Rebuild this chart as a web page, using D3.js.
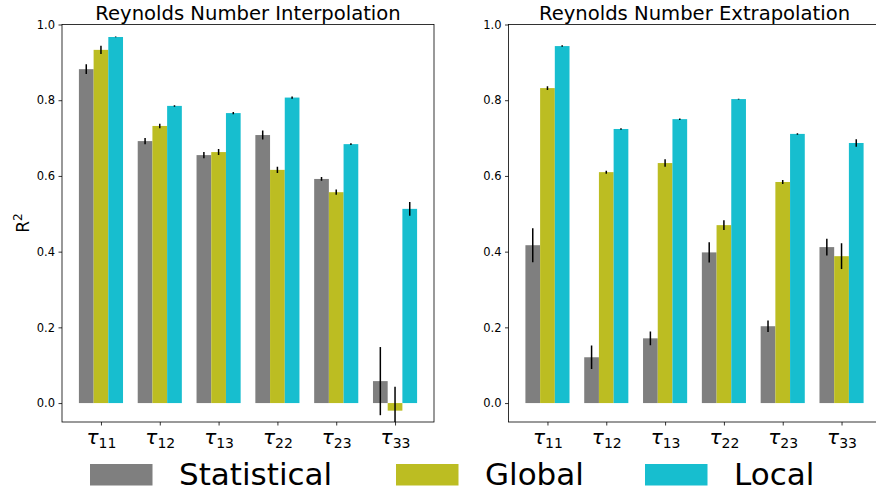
<!DOCTYPE html>
<html><head><meta charset="utf-8">
<script src="https://cdn.jsdelivr.net/npm/d3@7"></script>
<style>body{margin:0;background:#fff}svg{display:block;font-family:"DejaVu Sans",sans-serif}</style>
</head><body><svg id="c" width="876" height="490"></svg>
<script>
const categories = ["11","12","13","22","23","33"];
const seriesNames = ["Statistical","Global","Local"];
const colors = ["#7f7f7f","#bcbd22","#17becf"];
const yTicks = [0.0,0.2,0.4,0.6,0.8,1.0];
// Interpolation
const interpStat = [0.882,0.692,0.655,0.708,0.592,0.058];
const interpStatErr = [0.013,0.008,0.008,0.012,0.005,0.09];
const interpGlob = [0.933,0.732,0.663,0.616,0.557,-0.020];
const interpGlobErr = [0.011,0.006,0.008,0.008,0.007,0.063];
const interpLoc = [0.967,0.785,0.766,0.807,0.684,0.513];
const interpLocErr = [0.001,0.002,0.003,0.003,0.002,0.018];
// Extrapolation
const extraStat = [0.417,0.121,0.171,0.398,0.203,0.412];
const extraStatErr = [0.045,0.031,0.018,0.027,0.015,0.022];
const extraGlob = [0.832,0.610,0.634,0.470,0.584,0.388];
const extraGlobErr = [0.005,0.004,0.010,0.013,0.005,0.034];
const extraLoc = [0.943,0.724,0.750,0.803,0.711,0.687];
const extraLocErr = [0.002,0.002,0.002,0.001,0.002,0.010];

const svg = d3.select("#c");
const panels = [
  {title:"Reynolds Number Interpolation", x0:62, vals:[interpStat,interpGlob,interpLoc], errs:[interpStatErr,interpGlobErr,interpLocErr], ylabel:true},
  {title:"Reynolds Number Extrapolation", x0:508.5, vals:[extraStat,extraGlob,extraLoc], errs:[extraStatErr,extraGlobErr,extraLocErr], ylabel:false}
];
const W = 372, plotTop = 24.5, plotBottom = 422;
const barW = 0.25;

panels.forEach((p,pi)=>{
  const x = d3.scaleLinear().domain([-0.6625,5.6625]).range([p.x0,p.x0+W]);
  const y = d3.scaleLinear().domain([-0.05,1.0]).range([plotBottom,plotTop]);
  const g = svg.append("g");
  const cid = "clip"+pi;
  svg.append("clipPath").attr("id",cid).append("rect")
    .attr("x",p.x0).attr("y",plotTop).attr("width",W).attr("height",plotBottom-plotTop);
  const plot = g.append("g").attr("clip-path",`url(#${cid})`);
  p.vals.forEach((vals,si)=>{
    const off = (si-1)*barW;
    plot.selectAll(null).data(vals).enter().append("rect")
      .attr("x",(d,i)=>x(i+off-barW/2))
      .attr("width",(d,i)=>x(i+off+barW/2)-x(i+off-barW/2))
      .attr("y",d=>Math.min(y(d),y(0)))
      .attr("height",d=>Math.abs(y(d)-y(0)))
      .attr("fill",colors[si]);
  });
  p.vals.forEach((vals,si)=>{
    const off = (si-1)*barW;
    plot.selectAll(null).data(vals).enter().append("line")
      .attr("x1",(d,i)=>x(i+off)).attr("x2",(d,i)=>x(i+off))
      .attr("y1",(d,i)=>y(d-p.errs[si][i])).attr("y2",(d,i)=>y(d+p.errs[si][i]))
      .attr("stroke","#000").attr("stroke-width",1.5);
  });
  const ya = d3.axisLeft(y).tickValues(yTicks).tickFormat(d3.format(".1f")).tickSize(3.5).tickPadding(3.5);
  const yg = g.append("g").attr("transform",`translate(${p.x0},0)`).call(ya);
  yg.select(".domain").remove();
  yg.selectAll("line").attr("stroke","#000").attr("stroke-width",0.8);
  yg.selectAll("text").attr("font-size",11.5).attr("fill","#000").attr("font-family","DejaVu Sans");
  const xa = d3.axisBottom(x).tickValues(d3.range(categories.length)).tickFormat("").tickSize(3.5);
  const xg = g.append("g").attr("transform",`translate(0,${plotBottom})`).call(xa);
  xg.select(".domain").remove();
  xg.selectAll("line").attr("stroke","#000").attr("stroke-width",0.8);
  xg.selectAll(".tick").each(function(d,i){
    const t = d3.select(this).append("text").attr("y",22).attr("text-anchor","middle")
      .attr("fill","#000").attr("font-size",20).attr("font-family","DejaVu Sans");
    t.append("tspan").attr("font-style","italic").text("τ");
    t.append("tspan").attr("font-size",14).attr("dy",4).text(categories[i]);
  });
  g.append("rect").attr("x",p.x0).attr("y",plotTop).attr("width",W).attr("height",plotBottom-plotTop)
    .attr("fill","none").attr("stroke","#000").attr("stroke-width",0.8);
  g.append("text").attr("x",p.x0+W/2).attr("y",19.5).attr("text-anchor","middle")
    .attr("font-size",19.6).attr("fill","#000").text(p.title);
  if(p.ylabel){
    const yl = g.append("text").attr("transform","translate(29,223) rotate(-90)")
      .attr("text-anchor","middle").attr("font-size",17).attr("fill","#000");
    yl.append("tspan").text("R");
    yl.append("tspan").attr("font-size",12).attr("dy",-7).text("2");
  }
});

const legX = [90, 396, 645];
const leg = svg.append("g");
seriesNames.forEach((n,i)=>{
  leg.append("rect").attr("x",legX[i]).attr("y",464).attr("width",62.5).attr("height",21.5).attr("fill",colors[i]);
  leg.append("text").attr("x",legX[i]+89).attr("y",484.5).attr("font-size",31).attr("fill","#000").text(n);
});
</script></body></html>
